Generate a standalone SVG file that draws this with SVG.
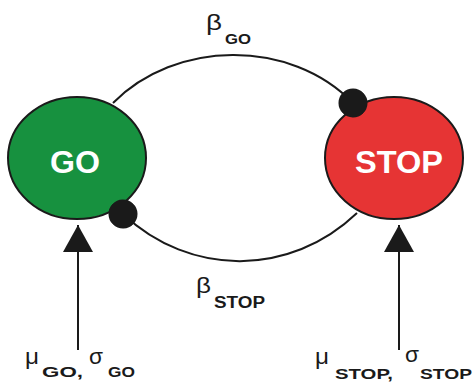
<svg xmlns="http://www.w3.org/2000/svg" width="476" height="383" viewBox="0 0 476 383">
<style>
.node{stroke:#1a1a1a;stroke-width:2}
.go{fill:#17913f}
.stop{fill:#e63434}
.nlab{font-family:"Liberation Sans",Arial,sans-serif;font-weight:bold;font-size:31px;fill:#fff;text-anchor:middle}
.conn{fill:none;stroke:#1a1a1a;stroke-width:2}
.greek{font-family:"Liberation Sans",Arial,sans-serif;font-size:22px;fill:#1a1a1a}
.sub{font-family:"Liberation Sans",Arial,sans-serif;font-weight:bold;fill:#1a1a1a}
</style>
<defs>
<marker id="dot" viewBox="0 0 30 30" refX="15" refY="15" markerWidth="29" markerHeight="29" markerUnits="userSpaceOnUse" orient="auto">
<circle cx="15" cy="15" r="15" fill="#1a1a1a"/>
</marker>
<marker id="tri" viewBox="0 0 27 30" refX="27" refY="15" markerWidth="27" markerHeight="30" markerUnits="userSpaceOnUse" orient="auto">
<path d="M0,0 L27,15 L0,30 Z" fill="#1a1a1a"/>
</marker>
</defs>
<g id="node-go">
<ellipse class="node go" cx="77" cy="158" rx="69" ry="61"/>
<text class="nlab" x="75" y="173" textLength="50" lengthAdjust="spacingAndGlyphs">GO</text>
</g>
<g id="node-stop">
<ellipse class="node stop" cx="394" cy="158" rx="69" ry="61"/>
<text class="nlab" x="399" y="173" textLength="88" lengthAdjust="spacingAndGlyphs">STOP</text>
</g>
<g id="connectors">
<path class="conn" d="M113,103 C175,40 290,38 353,103" marker-end="url(#dot)"/>
<path class="conn" d="M357,213 C290,277 190,277 123,214" marker-end="url(#dot)"/>
<path class="conn" d="M78,350 L78,225" marker-end="url(#tri)"/>
<path class="conn" d="M399,350 L399,225" marker-end="url(#tri)"/>
</g>
<g id="labels">
<text class="greek" x="206" y="30" textLength="16" lengthAdjust="spacingAndGlyphs">β</text>
<text class="sub" x="225" y="44" font-size="15" textLength="26" lengthAdjust="spacingAndGlyphs">GO</text>
<text class="greek" x="196" y="293" textLength="15" lengthAdjust="spacingAndGlyphs">β</text>
<text class="sub" x="214" y="308" font-size="16" textLength="51" lengthAdjust="spacingAndGlyphs">STOP</text>
<text class="greek" x="25" y="364" font-size="21" textLength="14" lengthAdjust="spacingAndGlyphs">μ</text>
<text class="sub" x="42" y="377" font-size="15" textLength="41" lengthAdjust="spacingAndGlyphs">GO,</text>
<text class="greek" x="89" y="364" font-size="21" textLength="14" lengthAdjust="spacingAndGlyphs">σ</text>
<text class="sub" x="108" y="377" font-size="15" textLength="27" lengthAdjust="spacingAndGlyphs">GO</text>
<text class="greek" x="315" y="364" font-size="21" textLength="14" lengthAdjust="spacingAndGlyphs">μ</text>
<text class="sub" x="335" y="379" font-size="15.5" textLength="58" lengthAdjust="spacingAndGlyphs">STOP,</text>
<text class="greek" x="405" y="362" font-size="21" textLength="14" lengthAdjust="spacingAndGlyphs">σ</text>
<text class="sub" x="420" y="379" font-size="15.5" textLength="52" lengthAdjust="spacingAndGlyphs">STOP</text>
</g>
</svg>
